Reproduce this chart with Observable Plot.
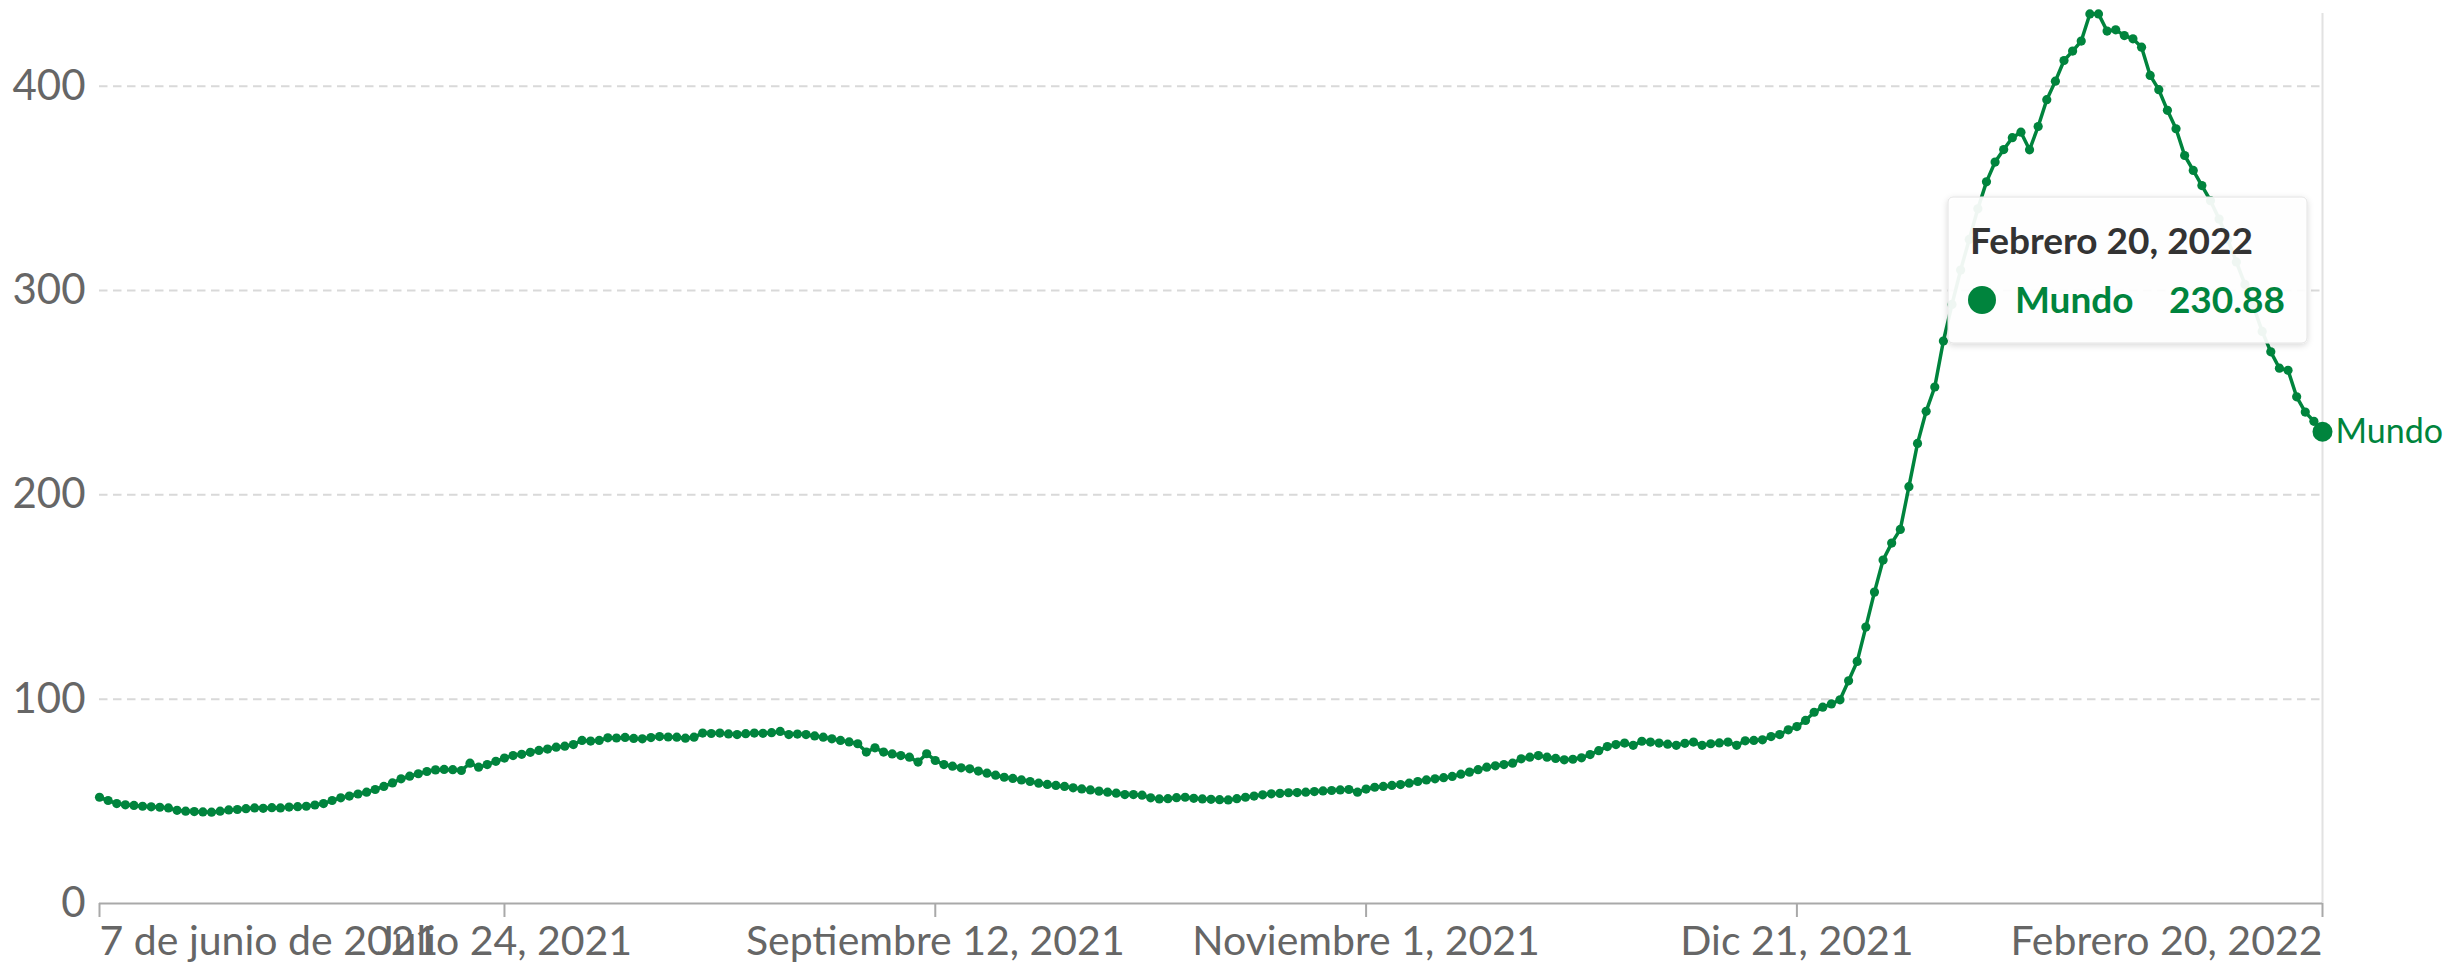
<!DOCTYPE html>
<html>
<head>
<meta charset="utf-8">
<script src="https://cdn.jsdelivr.net/npm/d3@7"></script>
<script src="https://cdn.jsdelivr.net/npm/@observablehq/plot@0.6"></script>
<style>
  html, body { margin: 0; padding: 0; background: #fff; }
  #chart { position: relative; width: 2446px; height: 964px; }
</style>
</head>
<body>
<div id="chart"></div>
<script>
// ---- data ----
const seriesName = "Mundo";
const startDate = "2021-06-07";
const values = [
  52.0, 50.4, 48.9, 48.3, 48.0, 47.6, 47.3, 47.1, 46.8, 45.6,
  45.2, 45.0, 44.8, 44.7, 45.2, 45.8, 46.0, 46.4, 46.8, 46.6,
  46.9, 46.8, 47.2, 47.4, 47.6, 48.2, 48.9, 50.4, 51.7, 52.6,
  53.6, 54.5, 55.8, 57.3, 59.0, 61.0, 62.3, 63.5, 64.6, 65.4,
  65.6, 65.5, 65.1, 68.7, 66.7, 68.0, 69.6, 71.2, 72.4, 73.0,
  74.0, 74.9, 75.6, 76.5, 77.0, 77.8, 79.8, 79.5, 79.8, 81.1,
  81.0, 81.3, 80.8, 80.6, 81.2, 81.7, 81.5, 81.4, 80.9, 81.4,
  83.4, 83.2, 83.4, 83.0, 82.7, 83.1, 83.4, 83.3, 83.6, 84.2,
  82.7, 82.9, 82.7, 82.0, 81.4, 80.6, 79.8, 79.1, 78.2, 74.1,
  76.2, 74.1, 73.2, 72.4, 71.6, 69.2, 73.3, 70.0, 68.0, 67.2,
  66.4, 65.9, 64.8, 63.8, 62.8, 61.8, 61.2, 60.5, 59.7, 58.9,
  58.3, 57.8, 57.3, 56.6, 56.1, 55.6, 55.0, 54.5, 54.0, 53.3,
  53.3, 53.0, 51.7, 51.2, 51.3, 51.8, 52.0, 51.5, 51.2, 51.0,
  50.8, 50.7, 51.3, 52.0, 52.6, 53.2, 53.7, 53.9, 54.2, 54.3,
  54.5, 54.8, 55.1, 55.3, 55.6, 55.8, 54.5, 56.0, 56.9, 57.3,
  57.8, 58.2, 58.9, 59.7, 60.5, 61.0, 61.6, 62.2, 63.3, 64.3,
  65.5, 66.7, 67.4, 68.0, 68.7, 70.8, 71.6, 72.4, 71.6, 71.0,
  70.3, 70.6, 71.3, 72.9, 74.8, 76.8, 77.8, 78.5, 77.4, 79.4,
  79.0, 78.5, 78.0, 77.4, 78.4, 79.0, 77.4, 78.2, 78.6, 79.0,
  77.4, 79.6, 79.8, 80.1, 81.7, 82.7, 85.0, 86.6, 89.6, 93.6,
  96.1, 97.7, 99.7, 109.0, 118.5, 135.3, 152.4, 168.1, 176.4, 183.1,
  204.0, 225.2, 240.9, 252.8, 275.3, 293.2, 310.0, 325.0, 340.0, 353.2,
  362.9, 369.0, 374.8, 377.5, 368.9, 380.3, 393.4, 402.5, 412.6, 417.2,
  422.1, 435.4, 435.4, 427.0, 427.6, 424.8, 423.2, 419.1, 405.3, 398.3,
  388.2, 379.2, 366.1, 358.8, 351.4, 344.0, 335.0, 325.0, 314.0, 303.0,
  292.0, 280.0, 270.0, 262.0, 261.0, 248.0, 240.5, 236.0, 230.88
];
const yTicks = [0, 100, 200, 300, 400];
const xTickDates = ["2021-06-07", "2021-07-24", "2021-09-12", "2021-11-01", "2021-12-21", "2022-02-20"];
const xTickLabels = ["7 de junio de 2021", "Julio 24, 2021", "Septiembre 12, 2021", "Noviembre 1, 2021", "Dic 21, 2021", "Febrero 20, 2022"];
const tooltipTitle = "Febrero 20, 2022";
const tooltipValue = "230.88";

// ---- build table ----
const t0 = new Date(startDate + "T00:00:00Z").getTime();
const data = values.map((v, i) => ({date: new Date(t0 + i * 864e5), value: v}));
const last = data[data.length - 1];
const tickDates = xTickDates.map(s => new Date(s + "T00:00:00Z"));
const labelOf = new Map(tickDates.map((d, i) => [+d, xTickLabels[i]]));

const green = "#00843d";
const W = 2446, H = 964, mL = 99, mR = 124, mT = 13, mB = 61;
const axisColor = "#a9a9a9";
const textColor = "#666";
const fsX = 41, fsY = 42;

const axisOpts = {tickSize: 14, tickPadding: 8, stroke: axisColor, strokeWidth: 2, strokeOpacity: 1,
  fontSize: fsX, fill: textColor, label: null, tickFormat: d => labelOf.get(+d)};

const chart = Plot.plot({
  width: W, height: H,
  marginLeft: mL, marginRight: mR, marginTop: mT, marginBottom: mB,
  style: {fontFamily: "Lato, 'Open Sans', sans-serif", fontSize: fsX + "px", color: textColor, background: "white"},
  x: {type: "utc", domain: [data[0].date, last.date]},
  y: {domain: [0, 435.6]},
  marks: [
    Plot.gridY(yTicks.slice(1), {stroke: "#d9d9d9", strokeOpacity: 1, strokeWidth: 2, strokeDasharray: "8.5,5.5"}),
    Plot.ruleX([last.date], {stroke: "#e2e2e2", strokeWidth: 2}),
    Plot.axisY(yTicks, {tickSize: 0, tickPadding: 14, fontSize: fsY, fill: textColor, label: null}),
    Plot.ruleY([0], {stroke: axisColor, strokeWidth: 2}),
    Plot.axisX(tickDates.slice(0, 1), {...axisOpts, textAnchor: "start"}),
    Plot.axisX(tickDates.slice(1, -1), {...axisOpts, textAnchor: "middle"}),
    Plot.axisX(tickDates.slice(-1), {...axisOpts, textAnchor: "end"}),
    Plot.line(data, {x: "date", y: "value", stroke: green, strokeWidth: 3.5}),
    Plot.dot(data, {x: "date", y: "value", r: 4.6, fill: green, stroke: "none"}),
    Plot.dot([last], {x: "date", y: "value", r: 10, fill: green, stroke: "none"}),
    Plot.text([last], {x: "date", y: "value", text: () => seriesName, textAnchor: "start", dx: 13, fontSize: 34, fill: green})
  ]
});

document.getElementById("chart").appendChild(chart);

// ---- tooltip annotation ----
const xs = d3.scaleUtc().domain([data[0].date, last.date]).range([mL, W - mR]);
const lx = xs(last.date);
const svg = d3.select(chart);
const defs = svg.append("defs");
const f = defs.append("filter").attr("id", "tipShadow").attr("x", "-10%").attr("y", "-10%").attr("width", "120%").attr("height", "130%");
f.append("feDropShadow").attr("dx", 0).attr("dy", 2).attr("stdDeviation", 3).attr("flood-color", "#000").attr("flood-opacity", 0.16);
const bx = lx - 374, by = 197, bw = 359, bh = 146;
const g = svg.append("g").attr("font-family", "Lato, sans-serif").attr("text-anchor", "start");
g.append("rect").attr("x", bx).attr("y", by).attr("width", bw).attr("height", bh)
  .attr("rx", 5).attr("fill", "white").attr("fill-opacity", 0.93)
  .attr("stroke", "#e4e4e4").attr("stroke-width", 1).attr("filter", "url(#tipShadow)");
g.append("text").attr("x", bx + 22).attr("y", by + 57).attr("font-size", 37).attr("font-weight", 700)
  .attr("text-anchor", "start").attr("fill", "#333").text(tooltipTitle);
g.append("circle").attr("cx", bx + 34).attr("cy", by + 103).attr("r", 14).attr("fill", green);
g.append("text").attr("x", bx + 67).attr("y", by + 116).attr("font-size", 37).attr("font-weight", 700)
  .attr("text-anchor", "start").attr("fill", green).text(seriesName);
g.append("text").attr("x", bx + bw - 22).attr("y", by + 116).attr("font-size", 37).attr("font-weight", 700)
  .attr("text-anchor", "end").attr("fill", green).text(tooltipValue);
</script>
</body>
</html>
